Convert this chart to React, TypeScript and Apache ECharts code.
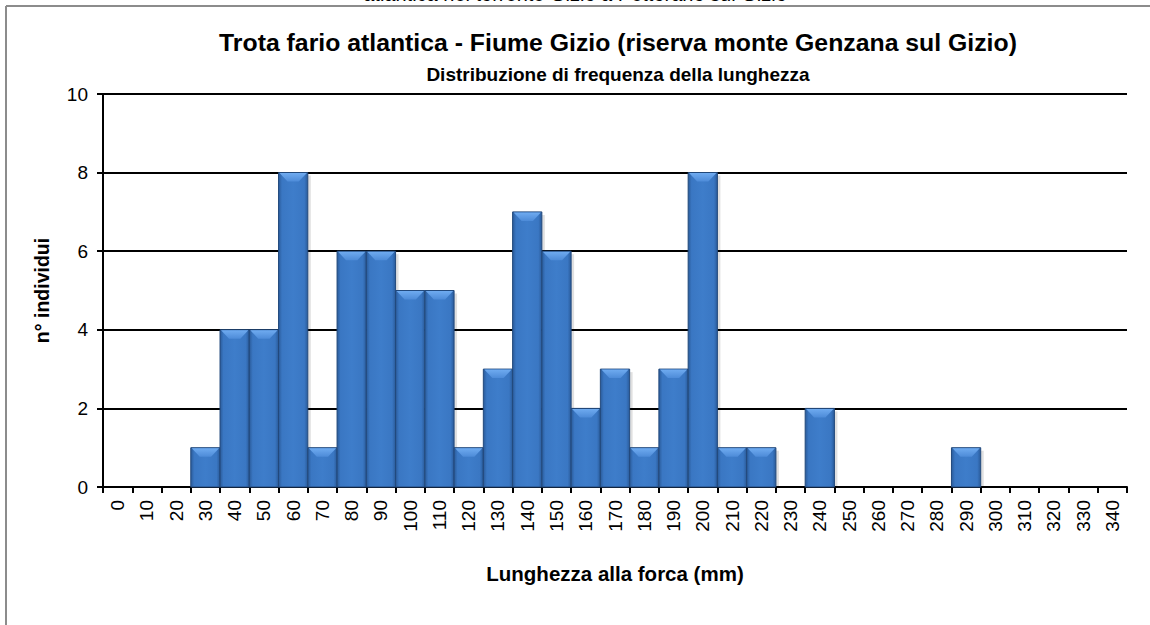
import React, { useEffect, useRef } from "react";
import * as echarts from "echarts";

const categories: string[] = [
  "0", "10", "20", "30", "40", "50", "60", "70", "80", "90",
  "100", "110", "120", "130", "140", "150", "160", "170", "180", "190",
  "200", "210", "220", "230", "240", "250", "260", "270", "280", "290",
  "300", "310", "320", "330", "340",
];
const counts: number[] = [
  0, 0, 0, 1, 4, 4, 8, 1, 6, 6,
  5, 5, 1, 3, 7, 6, 2, 3, 1, 3,
  8, 1, 1, 0, 2, 0, 0, 0, 0, 1,
  0, 0, 0, 0, 0,
];
const yTicks: number[] = [0, 2, 4, 6, 8, 10];

const titleText = "Trota fario atlantica - Fiume Gizio (riserva monte Genzana sul Gizio)";
const subtitleText = "Distribuzione di frequenza della lunghezza";
const captionText = "atlantica nel torrente Gizio a Pettorano sul Gizio";
const xName = "Lunghezza alla forca (mm)";
const yName = "n° individui";

const FONT = "'Liberation Sans', Arial, sans-serif";

export default function App() {
  const ref = useRef<HTMLDivElement>(null);
  useEffect(() => {
    document.body.style.margin = "0";
    document.body.style.overflow = "hidden";
    if (!ref.current) return;
    const chart = echarts.init(ref.current, null, { renderer: "svg" });
    const data = counts.map((v, i) => [i, v]);
    chart.setOption({
      animation: false,
      backgroundColor: "#ffffff",
      textStyle: { fontFamily: FONT },
      title: [
        {
          text: titleText,
          left: 613,
          top: 25,
          textAlign: "center",
          textStyle: { fontSize: 24.8, fontWeight: "bold", color: "#000", fontFamily: FONT },
        },
        {
          text: subtitleText,
          left: 613,
          top: 60,
          textAlign: "center",
          textStyle: { fontSize: 19, fontWeight: "bold", color: "#000", fontFamily: FONT },
        },
      ],
      graphic: [
        {
          type: "line",
          shape: { x1: 6, y1: 6, x2: 1150, y2: 6 },
          style: { stroke: "#8c8c8c", lineWidth: 2 },
          z: 100,
        },
        {
          type: "line",
          shape: { x1: 6, y1: 6, x2: 6, y2: 625 },
          style: { stroke: "#8c8c8c", lineWidth: 2 },
          z: 100,
        },
        {
          type: "text",
          x: 575,
          y: -6,
          style: {
            text: captionText,
            font: `20px ${FONT}`,
            fill: "#000",
            textAlign: "center",
            textVerticalAlign: "middle",
          },
        },
      ],
      grid: { left: 103, right: 23, top: 94, bottom: 138, containLabel: false },
      xAxis: {
        type: "category",
        data: categories,
        name: xName,
        nameLocation: "middle",
        nameGap: 76,
        nameTextStyle: { fontSize: 20.5, fontWeight: "bold", color: "#000", fontFamily: FONT },
        axisLine: { show: true, lineStyle: { color: "#000", width: 2 } },
        axisTick: { show: true, interval: 0, length: 6, lineStyle: { color: "#000", width: 2 } },
        axisLabel: { interval: 0, rotate: 90, fontSize: 19, color: "#000", margin: 13, fontFamily: FONT },
        splitLine: { show: false },
      },
      yAxis: {
        type: "value",
        min: yTicks[0],
        max: yTicks[yTicks.length - 1],
        interval: yTicks[1] - yTicks[0],
        name: yName,
        nameLocation: "middle",
        nameRotate: 90,
        nameGap: 51,
        nameTextStyle: { fontSize: 19.5, fontWeight: "bold", color: "#000", fontFamily: FONT },
        axisLine: { show: true, lineStyle: { color: "#000", width: 2 } },
        axisTick: { show: true, length: 6, lineStyle: { color: "#000", width: 2 } },
        axisLabel: { fontSize: 19, color: "#000", margin: 15, fontFamily: FONT },
        splitLine: { show: true, lineStyle: { color: "#000", width: 2 } },
      },
      series: [
        {
          type: "custom",
          data,
          z: 3,
          renderItem: (params: any, api: any) => {
            const i = api.value(0);
            const v = api.value(1);
            if (!v) return null;
            const base = api.coord([i, 0]);
            const top = api.coord([i, v]);
            const w = api.size([1, 0])[0];
            const x0 = base[0] - w / 2;
            const x1 = base[0] + w / 2;
            const yT = top[1];
            const yB = base[1];
            const b = Math.min(9, (yB - yT) / 2);
            return {
              type: "group",
              children: [
                {
                  type: "rect",
                  shape: { x: x1, y: yT + 3, width: 3, height: yB - yT - 3 },
                  style: { fill: "rgba(0,0,0,0.12)" },
                },
                {
                  type: "rect",
                  shape: { x: x0, y: yT, width: w, height: yB - yT },
                  style: {
                    fill: new echarts.graphic.LinearGradient(0, 0, 1, 0, [
                      { offset: 0, color: "#2a5b9a" },
                      { offset: 0.12, color: "#3a77c3" },
                      { offset: 0.5, color: "#3e7dca" },
                      { offset: 0.88, color: "#3a77c3" },
                      { offset: 1, color: "#2a5b9a" },
                    ]),
                    stroke: "#22497c",
                    lineWidth: 1,
                  },
                },
                {
                  type: "polygon",
                  shape: {
                    points: [
                      [x0 + 1, yT + 0.5],
                      [x1 - 1, yT + 0.5],
                      [x1 - b, yT + b],
                      [x0 + b, yT + b],
                    ],
                  },
                  style: {
                    fill: new echarts.graphic.LinearGradient(0, 0, 0, 1, [
                      { offset: 0, color: "#6fabf0" },
                      { offset: 1, color: "#4d8bd8" },
                    ]),
                  },
                },
              ],
            };
          },
        },
      ],
    });
    return () => chart.dispose();
  }, []);
  return (
    <div
      ref={ref}
      style={{ position: "fixed", left: 0, top: 0, width: 1150, height: 625, overflow: "hidden" }}
    />
  );
}
